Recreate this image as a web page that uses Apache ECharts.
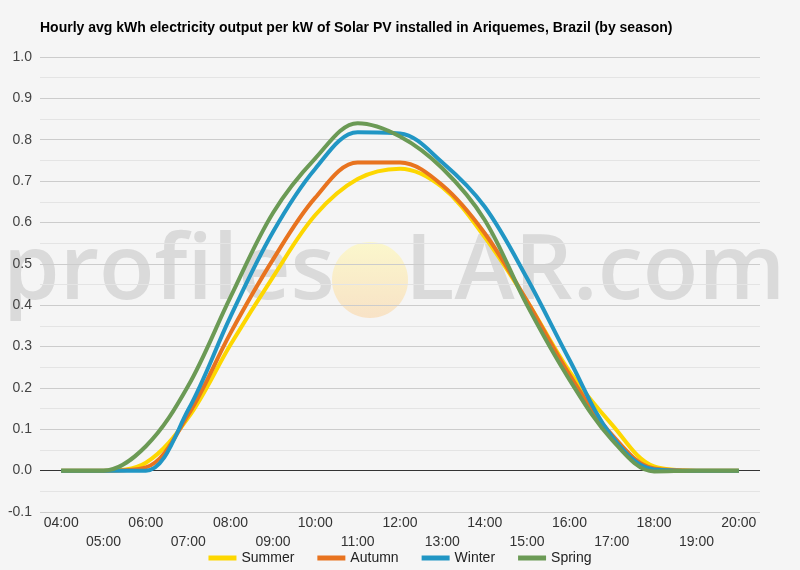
<!DOCTYPE html>
<html>
<head>
<meta charset="utf-8">
<script src="https://cdn.jsdelivr.net/npm/echarts@6/dist/echarts.min.js"></script>
<style>
html,body{margin:0;padding:0;background:#f5f5f5;}
#c{width:800px;height:570px;}
</style>
</head>
<body>
<div id="c"></div>
<script>
const hours = ["04:00","05:00","06:00","07:00","08:00","09:00","10:00","11:00","12:00","13:00","14:00","15:00","16:00","17:00","18:00","19:00","20:00"];
const summer = [0, 0, 0.019, 0.128, 0.305, 0.468, 0.618, 0.705, 0.73, 0.685, 0.565, 0.41, 0.24, 0.112, 0.01, 0, 0];
const autumn = [0, 0, 0.008, 0.135, 0.333, 0.51, 0.66, 0.745, 0.745, 0.69, 0.574, 0.41, 0.232, 0.087, 0.005, 0, 0];
const winter = [0, 0, 0.0, 0.147, 0.373, 0.577, 0.73, 0.818, 0.815, 0.745, 0.638, 0.465, 0.268, 0.083, 0.003, 0, 0];
const spring = [0, 0, 0.059, 0.205, 0.42, 0.623, 0.755, 0.84, 0.808, 0.731, 0.606, 0.4, 0.22, 0.075, -0.002, 0, 0];
const seriesNames = ["Summer","Autumn","Winter","Spring"];
const colors = ["#fdd700","#e8731f","#2196c4","#6b9a55"];
const seriesData = [summer, autumn, winter, spring];

const chart = echarts.init(document.getElementById('c'), null, {renderer:'canvas'});
const font = 'Arial, "Liberation Sans", sans-serif';
const series = seriesNames.map((n,i)=>({
  name:n, type:'line', data:seriesData[i], smooth:0.35, showSymbol:false, symbol:'none',
  lineStyle:{width:4, color:colors[i]}, itemStyle:{color:colors[i]}, z:3+i
}));
series.push({
  name:'zero', type:'line', data:[], silent:true, z:2,
  markLine:{silent:true, symbol:'none', label:{show:false}, animation:false,
    lineStyle:{color:'#333', width:1, type:'solid'}, data:[{yAxis:0}]}
});
chart.setOption({
  backgroundColor:'#f5f5f5',
  animation:false,
  title:{text:'Hourly avg kWh electricity output per kW of Solar PV installed in Ariquemes, Brazil (by season)',
    left:35, top:16, textStyle:{fontFamily:font, fontSize:14, fontWeight:'bold', color:'#000'}},
  graphic:[
    {type:'text', z:-10, silent:true, left:3, top:228,
      style:{text:'profiles', font:'600 91px "Open Sans", sans-serif', fill:'rgba(195,195,195,0.55)'}},
    {type:'ellipse', z:-10, silent:true, shape:{cx:370, cy:280, rx:38, ry:38},
      style:{fill:new echarts.graphic.LinearGradient(0,0,0,1,[{offset:0,color:'#fbf7cc'},{offset:1,color:'#f8e2c6'}])}},
    {type:'text', z:-10, silent:true, left:405, top:228,
      style:{text:'LAR.com', font:'600 91px "Open Sans", sans-serif', fill:'rgba(195,195,195,0.55)'}}
  ],
  legend:{data:seriesNames, bottom:0, left:'center', icon:'rect', itemWidth:28, itemHeight:5, itemGap:23,
    textStyle:{fontFamily:font, fontSize:14, color:'#222'}},
  grid:{left:40, right:40, top:57, bottom:58},
  xAxis:{type:'category', data:hours, boundaryGap:true,
    axisLine:{show:false}, axisTick:{show:false},
    axisLabel:{interval:0, margin:2, fontFamily:font, fontSize:14, color:'#333', lineHeight:19,
      formatter:(v,i)=> i%2===1 ? '\n'+v : v}},
  yAxis:{type:'value', min:-0.1, max:1.0, interval:0.1,
    axisLine:{show:false}, axisTick:{show:false},
    axisLabel:{fontFamily:font, fontSize:14, color:'#444', margin:8, formatter:v=>v.toFixed(1)},
    splitLine:{lineStyle:{color:'#cccccc', width:1}},
    minorTick:{show:false, splitNumber:2},
    minorSplitLine:{show:true, lineStyle:{color:'#e4e4e4', width:1}}},
  series:series
});
</script>
</body>
</html>
